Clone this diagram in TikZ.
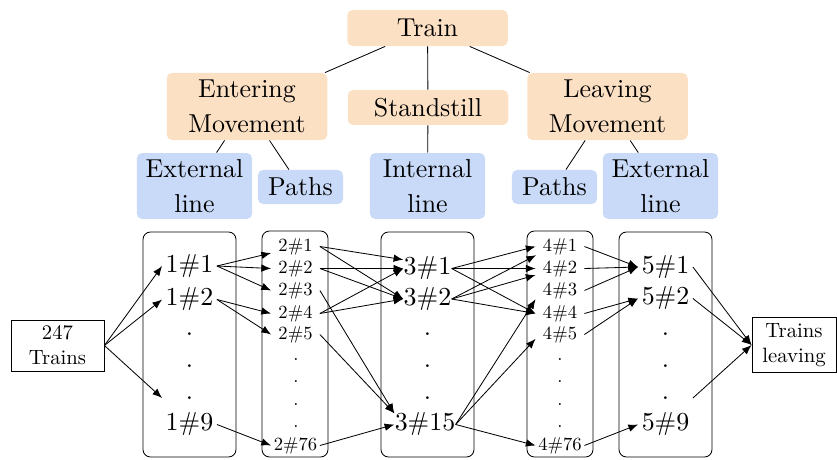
\documentclass[tikz,border=0pt]{standalone}
\usepackage{fontspec}
\setmainfont{lmroman10-regular.otf}
\usetikzlibrary{arrows.meta}
\newlength{\du}
\setlength{\du}{0.666667pt}
\definecolor{movefill}{RGB}{252,224,196}
\definecolor{linefill}{RGB}{201,218,248}
\newcommand{\treefont}{\fontsize{17.28}{23}\selectfont}
\newcommand{\numfont}{\fontsize{17.28}{23}\selectfont}
\newcommand{\subnumfont}{\fontsize{12.4}{15}\selectfont}
\newcommand{\termfont}{\fontsize{13.8}{16.6}\selectfont}
\tikzset{
  treebox/.style={rounded corners=3.5pt, align=center, font=\treefont, inner sep=0pt, minimum width=107pt},
  movebox/.style={treebox, fill=movefill},
  linebox/.style={treebox, fill=linefill, minimum width=76.7pt, minimum height=44pt},
  colframe/.style={draw, line width=0.55pt, rounded corners=5pt},
  bignum/.style={font=\numfont, inner sep=0pt},
  sidenum/.style={bignum, minimum width=36pt},
  smallnum/.style={font=\subnumfont, inner sep=0pt, minimum width=32pt},
  termbox/.style={draw, line width=0.55pt, align=center, font=\termfont, inner sep=4pt},
  flow/.style={line width=0.55pt, -{Latex[length=6.5pt,width=5pt]}}
}
\begin{document}
\begin{tikzpicture}[even odd rule, line width=0.55pt]
\pgftransformyscale{-1.000000}
\useasboundingbox (0\du,0\du) rectangle (837\du,459\du);
% tree
\node[movebox, minimum height=24pt] (train) at (427.5\du,28\du) {Train};
\node[movebox, minimum height=44.7pt] (entering) at (247\du,106.5\du) {Entering\\Movement};
\node[movebox, minimum height=23.3pt] (standstill) at (428\du,107.5\du) {Standstill};
\node[movebox, minimum height=44.7pt] (leaving) at (607.5\du,106.5\du) {Leaving\\Movement};
\node[linebox] (extin) at (194.5\du,186\du) {External\\line};
\node[linebox, minimum width=56.7pt, minimum height=22.7pt] (pathsin) at (300.5\du,187\du) {Paths};
\node[linebox] (internal) at (427.5\du,186\du) {Internal\\line};
\node[linebox, minimum width=56.7pt, minimum height=22.7pt] (pathsout) at (554.5\du,187\du) {Paths};
\node[linebox] (extout) at (660.5\du,186\du) {External\\line};
\draw (train) -- (entering);
\draw (train) -- (standstill);
\draw (train) -- (leaving);
\draw (entering) -- (extin);
\draw (entering) -- (pathsin);
\draw (standstill) -- (internal);
\draw (leaving) -- (pathsout);
\draw (leaving) -- (extout);
% frames
\draw[colframe] (143\du,232\du) rectangle (236\du,457\du);
\draw[colframe] (262\du,231\du) rectangle (328\du,457\du);
\draw[colframe] (381\du,232\du) rectangle (474\du,457\du);
\draw[colframe] (527\du,231\du) rectangle (593\du,457\du);
\draw[colframe] (619\du,232\du) rectangle (712\du,457\du);
% ends
\node[termbox, minimum width=62pt] (trainsin) at (57.5\du,345.5\du) {247\\Trains};
\node[termbox, minimum width=56pt] (trainsout) at (794\du,345\du) {Trains\\leaving};
% column 1
\node[sidenum] (n11) at (189.5\du,266\du) {1\#1};
\node[sidenum] (n12) at (189.5\du,299.5\du) {1\#2};
\node[sidenum] (d1a) at (189.5\du,334\du) {.};
\node[sidenum] (d1b) at (189.5\du,366\du) {.};
\node[sidenum] (d1c) at (189.5\du,398\du) {.};
\node[sidenum] (n19) at (189.5\du,424.5\du) {1\#9};
% column 2
\node[smallnum] (n21) at (295.5\du,246.5\du) {2\#1};
\node[smallnum] (n22) at (295.5\du,268.5\du) {2\#2};
\node[smallnum] (n23) at (295.5\du,290.5\du) {2\#3};
\node[smallnum] (n24) at (295.5\du,313.5\du) {2\#4};
\node[smallnum] (n25) at (295.5\du,334.5\du) {2\#5};
\node[smallnum] (d2a) at (296\du,360\du) {.};
\node[smallnum] (d2b) at (296\du,382\du) {.};
\node[smallnum] (d2c) at (296\du,405\du) {.};
\node[smallnum] (d2d) at (296\du,427\du) {.};
\node[smallnum] (n276) at (295.5\du,445.5\du) {2\#76};
% column 3
\node[bignum] (n31) at (427.5\du,268.5\du) {3\#1};
\node[bignum] (n32) at (427.5\du,299\du) {3\#2};
\node[bignum] (d3a) at (427.5\du,334\du) {.};
\node[bignum] (d3b) at (427.5\du,366\du) {.};
\node[bignum] (d3c) at (427.5\du,398\du) {.};
\node[bignum] (n315) at (425\du,424.5\du) {3\#15};
% column 4
\node[smallnum] (n41) at (560\du,246.5\du) {4\#1};
\node[smallnum] (n42) at (560\du,268.5\du) {4\#2};
\node[smallnum] (n43) at (560\du,290.5\du) {4\#3};
\node[smallnum] (n44) at (560\du,313.5\du) {4\#4};
\node[smallnum] (n45) at (560\du,334.5\du) {4\#5};
\node[smallnum] (d4a) at (560\du,360\du) {.};
\node[smallnum] (d4b) at (560\du,382\du) {.};
\node[smallnum] (d4c) at (560\du,405\du) {.};
\node[smallnum] (d4d) at (560\du,427\du) {.};
\node[smallnum] (n476) at (560\du,445.5\du) {4\#76};
% column 5
\node[sidenum] (n51) at (665.5\du,267\du) {5\#1};
\node[sidenum] (n52) at (665.5\du,298.5\du) {5\#2};
\node[sidenum] (d5a) at (665.5\du,334\du) {.};
\node[sidenum] (d5b) at (665.5\du,366\du) {.};
\node[sidenum] (d5c) at (665.5\du,398\du) {.};
\node[sidenum] (n59) at (665.5\du,424.5\du) {5\#9};
% arrows
\draw[flow] (trainsin.east) -- (n11.west);
\draw[flow] (trainsin.east) -- (n12.west);
\draw[flow] (trainsin.east) -- (d1c.west);
\draw[flow] (n11.east) -- (n21.195);
\draw[flow] (n11.east) -- (n22.west);
\draw[flow] (n11.east) -- (n23.west);
\draw[flow] (n12.east) -- (n24.west);
\draw[flow] (n12.east) -- (n25.west);
\draw[flow] (n19.east) -- (n276.west);
\draw[flow] (n21.east) -- (n31.160);
\draw[flow] (n21.east) -- (n32.west);
\draw[flow] (n22.east) -- (n31.west);
\draw[flow] (n22.east) -- (n32.west);
\draw[flow] (n23.east) -- (n315.160);
\draw[flow] (n24.east) -- (n31.west);
\draw[flow] (n24.east) -- (n32.west);
\draw[flow] (n25.east) -- (n315.160);
\draw[flow] (n276.east) -- (n315.west);
\draw[flow] (n31.east) -- (n41.west);
\draw[flow] (n31.east) -- (n42.west);
\draw[flow] (n31.east) -- (n44.west);
\draw[flow] (n32.east) -- (n41.200);
\draw[flow] (n32.east) -- (n42.195);
\draw[flow] (n32.east) -- (n44.west);
\draw[flow] (n315.east) -- (n43.south west);
\draw[flow] (n315.east) -- (n45.190);
\draw[flow] (n315.east) -- (n476.west);
\draw[flow] (n41.east) -- (n51.west);
\draw[flow] (n42.east) -- (n51.west);
\draw[flow] (n43.east) -- (n51.west);
\draw[flow] (n44.east) -- (n52.west);
\draw[flow] (n45.east) -- (n52.west);
\draw[flow] (n476.east) -- (n59.west);
\draw[flow] (n51.east) -- (trainsout.west);
\draw[flow] (n52.east) -- (trainsout.west);
\draw[flow] (d5c.east) -- (trainsout.west);
\end{tikzpicture}
\end{document}
